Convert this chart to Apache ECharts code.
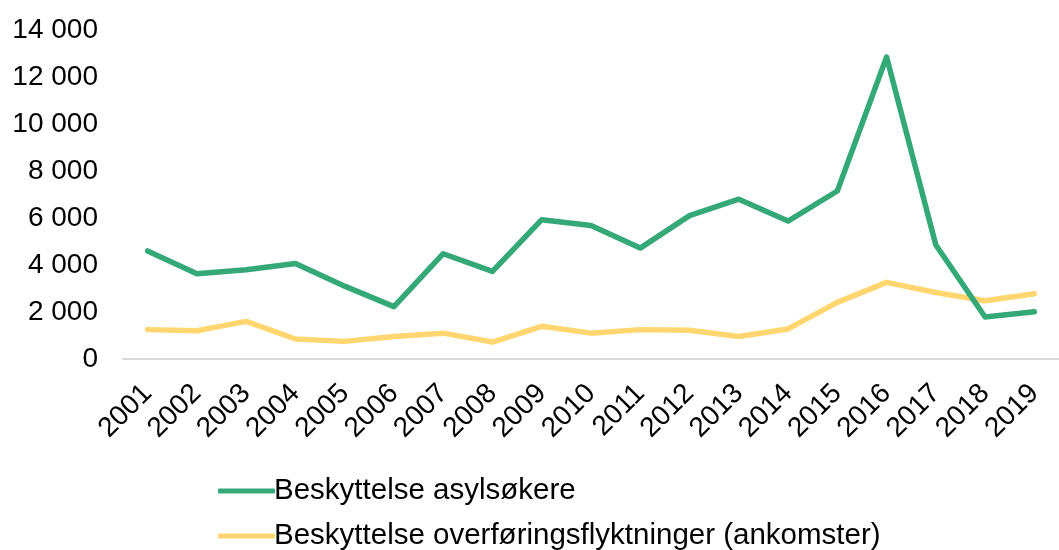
<!DOCTYPE html>
<html>
<head>
<meta charset="utf-8">
<script src="https://cdn.jsdelivr.net/npm/echarts@6/dist/echarts.min.js"></script>
<style>
  html, body { margin: 0; padding: 0; background: #fff; }
  #chart { width: 1059px; height: 550px; }
</style>
</head>
<body>
<div id="chart"></div>
<script>
// år
const years = ["2001", "2002", "2003", "2004", "2005", "2006", "2007", "2008", "2009", "2010",
  "2011", "2012", "2013", "2014", "2015", "2016", "2017", "2018", "2019"];
// Beskyttelse asylsøkere
const asylsokere = [4600, 3630, 3800, 4060, 3100, 2230, 4480, 3730, 5930, 5680,
  4720, 6100, 6800, 5870, 7150, 12850, 4850, 1790, 2010];
// Beskyttelse overføringsflyktninger (ankomster)
const overforing = [1250, 1200, 1600, 850, 750, 960, 1100, 720, 1390, 1100,
  1250, 1220, 960, 1280, 2410, 3260, 2830, 2480, 2780];
const seriesNames = ["Beskyttelse asylsøkere", "Beskyttelse overføringsflyktninger (ankomster)"];

const font = "Liberation Sans, Arial, sans-serif";
const chart = echarts.init(document.getElementById("chart"));

//tusenskille med mellomrom
const fmt = v => String(v).replace(/\B(?=(\d{3})+(?!\d))/g, " ");

chart.setOption({
  animation: false,
  grid: { left: 123, top: 30, width: 948, height: 329 },
  legend: {
    orient: "vertical",
    left: 218,
    top: 476,
    width: 820,
    height: 120,
    itemWidth: 57,
    itemHeight: 5,
    itemGap: 15,
    padding: 0,
    icon: "roundRect",
    textStyle: { fontFamily: font, fontSize: 29.5, color: "#000", padding: [0, 0, 0, -6] },
    data: seriesNames
  },
  xAxis: {
    type: "category",
    data: years,
    boundaryGap: true,
    axisLine: { lineStyle: { color: "#d9d9d9", width: 2 } },
    axisTick: { show: false },
    axisLabel: {
      rotate: 45,
      margin: 30,
      interval: 0,
      fontFamily: font,
      fontSize: 28,
      color: "#000"
    }
  },
  yAxis: {
    type: "value",
    min: 0,
    max: 14000,
    interval: 2000,
    splitLine: { show: false },
    axisLine: { show: false },
    axisTick: { show: false },
    axisLabel: {
      margin: 25,
      fontFamily: font,
      fontSize: 28,
      color: "#000",
      formatter: fmt
    }
  },
  series: [
    {
      name: seriesNames[0],
      type: "line",
      data: asylsokere,
      symbol: "none",
      lineStyle: { color: "#35a877", width: 5.5, cap: "round", join: "round" },
      itemStyle: { color: "#35a877" }
    },
    {
      name: seriesNames[1],
      type: "line",
      data: overforing,
      symbol: "none",
      z: 1,
      lineStyle: { color: "#ffd66f", width: 5.5, cap: "round", join: "round" },
      itemStyle: { color: "#ffd66f" }
    }
  ]
});
</script>
</body>
</html>
